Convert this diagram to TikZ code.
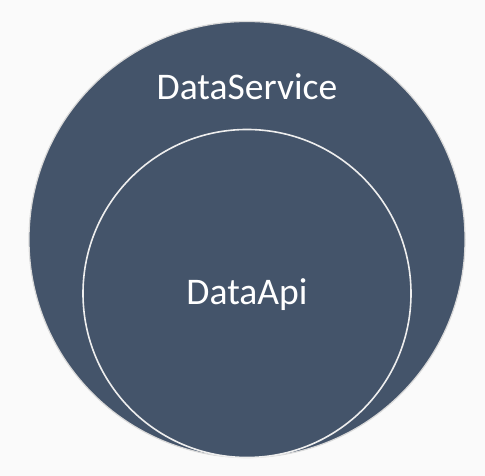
\documentclass[tikz,border=0pt]{standalone}
\usepackage{fontspec}
\setmainfont{Carlito}
\definecolor{slate}{HTML}{44546A}
\definecolor{paper}{HTML}{FAFAFA}
\definecolor{rim}{HTML}{D9D9D9}
\definecolor{edge}{HTML}{EEEEEE}
\tikzset{
  ring/.style={circle, fill=slate, inner sep=0pt},
  label text/.style={text=white, font=\fontsize{37.6}{42}\selectfont, anchor=base}
}
\begin{document}
\begin{tikzpicture}[x=1pt, y=1pt]
         \fill[paper] (0,0) rectangle (485,476);
         \useasboundingbox (0,0) rectangle (485,476);
         \node[ring, draw=rim, line width=1.2pt, minimum size=436pt] (service) at (247,236.5) {};
         \node[ring, draw=edge, line width=1.6pt, minimum size=328pt] (api) at (247,182.5) {};
         \node[label text] (servicename) at (247,376.5) {DataService};
         \node[label text] (apiname) at (247,171) {DataApi};
      \end{tikzpicture}
\end{document}
